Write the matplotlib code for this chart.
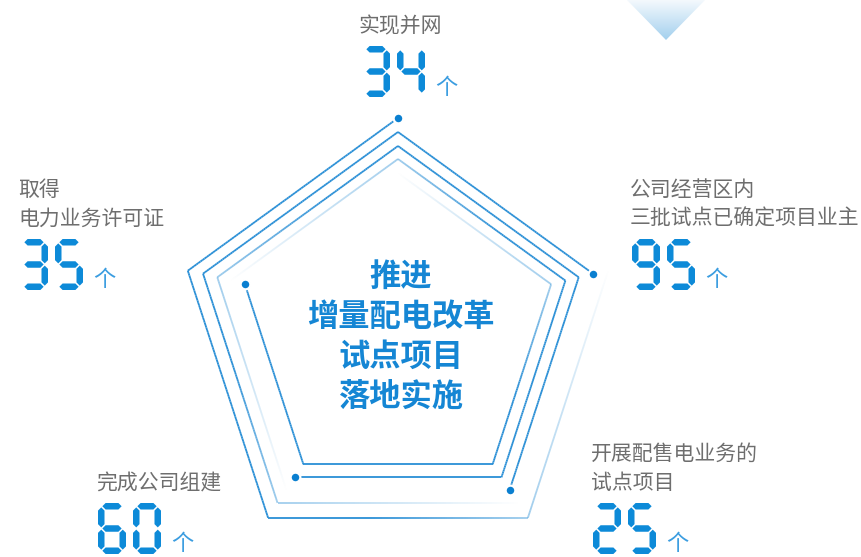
import numpy as np
import matplotlib.pyplot as plt
from matplotlib.patches import Polygon
from matplotlib.collections import LineCollection
from matplotlib.colors import LinearSegmentedColormap, to_rgb

plt.rcParams['font.family'] = ['Noto Sans CJK SC', 'DejaVu Sans']

# data
labels = ['实现并网', '公司经营区内\n三批试点已确定项目业主', '开展配售电业务的\n试点项目',
          '完成公司组建', '取得\n电力业务许可证']
values = [34, 95, 25, 60, 35]
unit = '个'
title_lines = ['推进', '增量配电改革', '试点项目', '落地实施']

# layout (pixel coords, y down)
num_pos = [(362, 46), (632, 239), (593, 503), (98, 503), (20, 239)]
label_align = ['center', 'left', 'left', 'left', 'left']
cx = 398
ring_r = [221, 205, 190, 176, 161]
ring_cy = [339, 337, 336, 335, 334]
ring_start = [0, 4, 3, 2, 1]

blue = '#0d8ad8'
line_blue = '#2a8fd6'
gray = '#6e6e6e'

SEGS = {'0': 'abcdef', '1': 'bc', '2': 'abged', '3': 'abgcd', '4': 'fgbc',
        '5': 'afgcd', '6': 'afgedc', '7': 'abc', '8': 'abcdefg', '9': 'abcdfg'}


def seg_poly(x1, y1, x2, y2, t):
    h = t / 2
    if y1 == y2:
        return [(x1, y1), (x1 + h, y1 - h), (x2 - h, y1 - h), (x2, y1), (x2 - h, y1 + h), (x1 + h, y1 + h)]
    return [(x1, y1), (x1 + h, y1 + h), (x1 + h, y2 - h), (x1, y2), (x1 - h, y2 - h), (x1 - h, y1 + h)]


def draw_digit(ax, ch, x0, y0, w=28, h=51, t=6.5, gap=1.1):
    xl, xr = x0 + t / 2, x0 + w - t / 2
    yt, ym, yb = y0 + t / 2, y0 + h / 2, y0 + h - t / 2
    segs = {
        'a': (xl + gap, yt, xr - gap, yt),
        'g': (xl + gap, ym, xr - gap, ym),
        'd': (xl + gap, yb, xr - gap, yb),
        'f': (xl, yt + gap, xl, ym - gap),
        'b': (xr, yt + gap, xr, ym - gap),
        'e': (xl, ym + gap, xl, yb - gap),
        'c': (xr, ym + gap, xr, yb - gap),
    }
    for s in SEGS[ch]:
        ax.add_patch(Polygon(seg_poly(*segs[s], t), closed=True, facecolor=blue,
                             edgecolor='none', zorder=5))


def pent_path(u, r, cy, start):
    k = np.minimum(np.floor(u), 3)
    f = (u - k)[:, None]
    a0 = np.deg2rad(-90 - 72 * (start + k))
    a1 = np.deg2rad(-90 - 72 * (start + k + 1))
    p0 = np.column_stack([cx + r * np.cos(a0), cy + r * np.sin(a0)])
    p1 = np.column_stack([cx + r * np.cos(a1), cy + r * np.sin(a1)])
    return p0 + (p1 - p0) * f


fig = plt.figure(figsize=(8.62, 5.57), dpi=100)
ax = fig.add_axes([0, 0, 1, 1])

# spiral of pentagon arms
u = np.linspace(0, 4, 401)
rgb = to_rgb(line_blue)
for r, cy, st in zip(ring_r, ring_cy, ring_start):
    pts = pent_path(u, r, cy, st)
    segs = np.stack([pts[:-1], pts[1:]], axis=1)
    um = (u[:-1] + u[1:]) / 2
    alpha = np.interp(um, [0, 2.4, 3.0, 4.0], [1, 1, 0.45, 0.0])
    colors = [(rgb[0], rgb[1], rgb[2], a) for a in alpha]
    ax.add_collection(LineCollection(segs, colors=colors, linewidths=1.3, zorder=3))
    ax.plot(pts[0, 0], pts[0, 1], 'o', ms=7, mfc='#0a7fd0', mec='white', mew=1.6, zorder=4)

# center title
for i, line in enumerate(title_lines):
    ax.text(401, 277 + 40 * i, line, ha='center', va='center', fontsize=22.5,
            fontweight='bold', color='#1586d4', zorder=6)

# numbers and labels
for lab, val, (x0, y0), al in zip(labels, values, num_pos, label_align):
    for i, ch in enumerate(str(val)):
        draw_digit(ax, ch, x0 + 35 * i, y0)
    ax.text(x0 + 84, y0 + 41, unit, ha='center', va='center', fontsize=16, color='#3b9de0')
    lines = lab.split('\n')
    for j, ln in enumerate(lines):
        y = y0 - 20 - 29 * (len(lines) - 1 - j)
        if al == 'center':
            ax.text(x0 + 38, y, ln, ha='center', va='center', fontsize=15, color=gray)
        else:
            ax.text(x0 - 2, y, ln, ha='left', va='center', fontsize=15, color=gray)

# gradient triangle top right
grad = np.linspace(0, 1, 100).reshape(-1, 1)
cmap = LinearSegmentedColormap.from_list('tri', ['#f4f9fd', '#a3d0ee'])
im = ax.imshow(grad, extent=(627, 705, 40, 0), cmap=cmap, aspect='auto', zorder=1)
tri = Polygon([(627, 0), (705, 0), (666, 40)], closed=True, facecolor='none',
              edgecolor='none', transform=ax.transData)
ax.add_patch(tri)
im.set_clip_path(tri)

ax.set_xlim(0, 862)
ax.set_ylim(557, 0)
ax.axis('off')
fig.savefig('out.png', dpi=100)
